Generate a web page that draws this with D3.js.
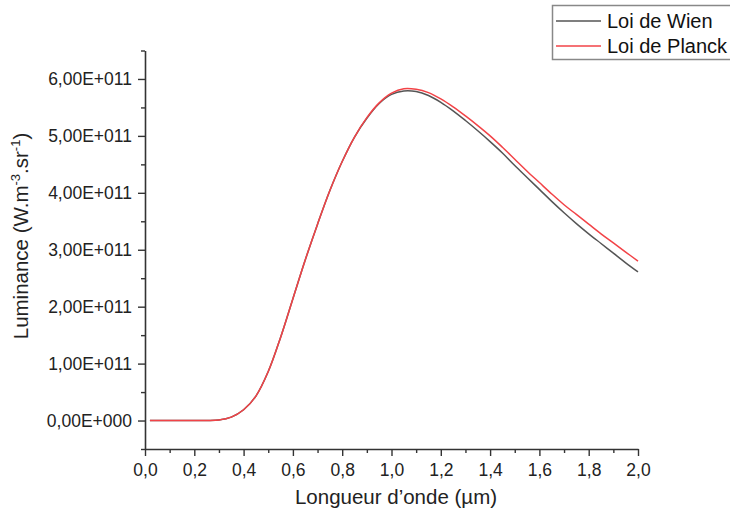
<!DOCTYPE html>
<html>
<head>
<meta charset="utf-8">
<script src="https://cdn.jsdelivr.net/npm/d3@7"></script>
<style>
  body { margin: 0; background: #fff; }
  svg { font-family: Arial, "Liberation Sans", sans-serif; }
</style>
</head>
<body>
<div id="chart"></div>
<script>
// longueur d'onde (µm)
const lambda = [0.02, 0.05, 0.1, 0.15, 0.2, 0.25, 0.3, 0.35, 0.4, 0.45, 0.5, 0.55, 0.6, 0.65, 0.7,
  0.75, 0.8, 0.85, 0.9, 0.95, 1.0, 1.05, 1.1, 1.15, 1.2, 1.25, 1.3, 1.35, 1.4, 1.45, 1.5,
  1.55, 1.6, 1.65, 1.7, 1.75, 1.8, 1.85, 1.9, 1.95, 2.0];
// luminance, en unités de 1E+11 W.m-3.sr-1
const planck = [0, 0, 0, 0, 0, 0.002, 0.01, 0.06, 0.19, 0.43, 0.86, 1.46, 2.14, 2.82, 3.45,
  4.04, 4.55, 4.98, 5.32, 5.58, 5.75, 5.83, 5.82, 5.76, 5.65, 5.51, 5.35, 5.18, 5.00, 4.80, 4.59,
  4.38, 4.18, 3.98, 3.79, 3.62, 3.45, 3.28, 3.12, 2.96, 2.80];
const wien = [0, 0, 0, 0, 0, 0.002, 0.01, 0.06, 0.19, 0.43, 0.86, 1.46, 2.14, 2.82, 3.45,
  4.04, 4.55, 4.98, 5.31, 5.57, 5.73, 5.79, 5.78, 5.71, 5.59, 5.44, 5.27, 5.09, 4.90, 4.70, 4.48,
  4.27, 4.06, 3.85, 3.65, 3.46, 3.28, 3.11, 2.94, 2.77, 2.61];
const UNIT = 1e11;

const xTicks = [0, 0.2, 0.4, 0.6, 0.8, 1.0, 1.2, 1.4, 1.6, 1.8, 2.0];
const yTicks = [0, 1, 2, 3, 4, 5, 6];
const seriesNames = ['Loi de Wien', 'Loi de Planck'];
const seriesColors = ['#555555', '#f24347'];

const W = 730, H = 515;
const svg = d3.select('#chart').append('svg')
  .attr('width', W)
  .attr('height', H);

const x = d3.scaleLinear().domain([0, 2]).range([145, 638]);
const y = d3.scaleLinear().domain([-0.5 * UNIT, 6.5 * UNIT]).range([449, 50.5]);

// format "6,00E+011"
function fmtY(v) {
  if (v === 0) return '0,00E+000';
  const e = Math.floor(Math.log10(v));
  const m = v / Math.pow(10, e);
  return m.toFixed(2).replace('.', ',') + 'E+' + String(e).padStart(3, '0');
}

// axes
const xAxis = svg.append('g')
  .attr('transform', `translate(0,449)`)
  .call(d3.axisBottom(x).tickValues(xTicks).tickSize(7).tickSizeOuter(0)
    .tickFormat(d => d.toFixed(1).replace('.', ',')));
svg.append('g')
  .attr('transform', `translate(0,449)`)
  .call(d3.axisBottom(x).tickValues(d3.range(0.1, 2, 0.2)).tickSize(4).tickFormat('').tickSizeOuter(0))
  .call(g => g.select('.domain').remove());

const yAxis = svg.append('g')
  .attr('transform', `translate(145,0)`)
  .call(d3.axisLeft(y).tickValues(yTicks.map(d => d * UNIT)).tickSize(7).tickSizeOuter(0)
    .tickFormat(fmtY));
svg.append('g')
  .attr('transform', `translate(145,0)`)
  .call(d3.axisLeft(y).tickValues(d3.range(-0.5, 7, 1).map(d => d * UNIT)).tickSize(4).tickFormat('').tickSizeOuter(0))
  .call(g => g.select('.domain').remove());

svg.selectAll('.domain').attr('stroke', '#333').attr('stroke-width', 1.6);
svg.selectAll('.tick line').attr('stroke', '#333').attr('stroke-width', 1.4);
xAxis.selectAll('.tick text').attr('font-size', 17.5).attr('fill', '#222').attr('dy', '0.95em');
yAxis.selectAll('.tick text').attr('font-size', 17.5).attr('fill', '#222').attr('x', -13);

// titres d'axes
svg.append('text')
  .attr('x', 396)
  .attr('y', 504)
  .attr('text-anchor', 'middle')
  .attr('font-size', 20.5)
  .attr('fill', '#222')
  .text('Longueur d\u2019onde (\u00b5m)');

const yTitle = svg.append('text')
  .attr('transform', 'translate(28,236) rotate(-90)')
  .attr('text-anchor', 'middle')
  .attr('font-size', 20.5)
  .attr('fill', '#222');
yTitle.append('tspan').text('Luminance (W.m');
yTitle.append('tspan').attr('font-size', 13).attr('dy', -8).text('-3');
yTitle.append('tspan').attr('dy', 8).text('.sr');
yTitle.append('tspan').attr('font-size', 13).attr('dy', -8).text('-1');
yTitle.append('tspan').attr('dy', 8).text(')');

// courbes
const line = d3.line()
  .x((d, i) => x(lambda[i]))
  .y(d => y(d * UNIT))
  .curve(d3.curveCatmullRom);

[wien, planck].forEach((s, i) => {
  svg.append('path')
    .datum(s)
    .attr('fill', 'none')
    .attr('stroke', seriesColors[i])
    .attr('stroke-width', 1.5)
    .attr('d', line);
});

// légende
const legend = svg.append('g');
legend.append('rect')
  .attr('x', 552.5)
  .attr('y', 5.5)
  .attr('width', 200)
  .attr('height', 54)
  .attr('fill', '#fff')
  .attr('stroke', '#888')
  .attr('stroke-width', 1.5);

const items = legend.selectAll('.legend-item')
  .data(seriesNames)
  .join('g')
  .attr('class', 'legend-item')
  .attr('transform', (d, i) => `translate(0, ${21 + i * 25})`);

items.append('line')
  .attr('x1', 556)
  .attr('x2', 601)
  .attr('stroke', (d, i) => seriesColors[i])
  .attr('stroke-width', 1.5);

items.append('text')
  .attr('x', 607)
  .attr('y', 7)
  .attr('font-size', 20)
  .attr('fill', '#111')
  .text(d => d);
</script>
</body>
</html>
